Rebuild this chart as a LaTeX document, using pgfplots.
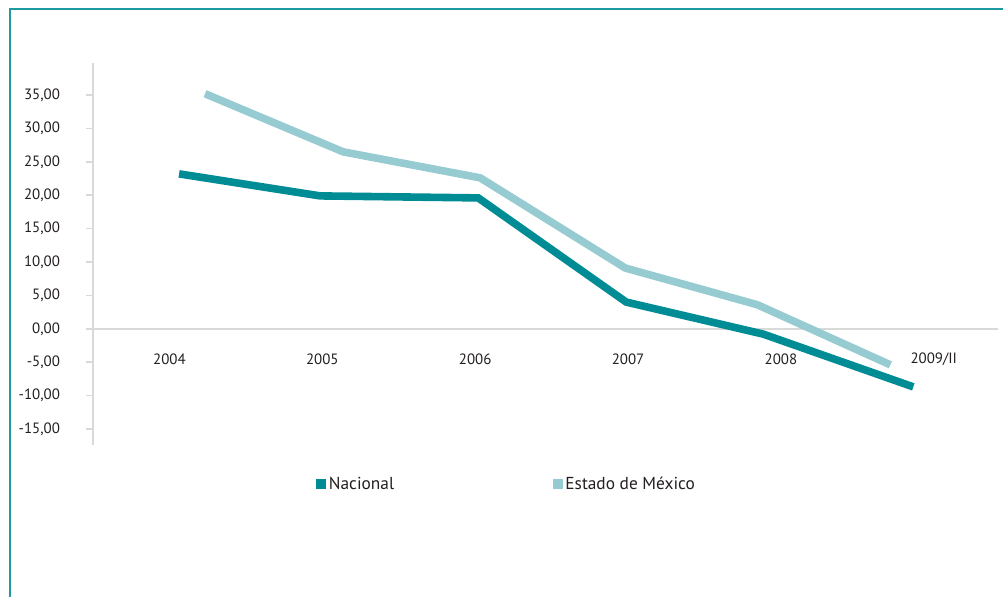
\documentclass[border=0pt]{standalone}
\usepackage{pgfplots}
\pgfplotsset{compat=1.18}
\usepackage{fontspec}
\setmainfont{PT Sans}
\definecolor{nacional}{RGB}{0,140,149}
\definecolor{edomex}{RGB}{150,203,210}
\definecolor{marco}{RGB}{30,155,162}
\definecolor{eje}{RGB}{217,217,217}
\definecolor{texto}{RGB}{35,31,32}

\begin{document}
\begin{tikzpicture}[x=0.75pt,y=0.75pt]
  \useasboundingbox (0,0) rectangle (1003,597);
  \draw[marco, line width=1.5pt] (10,0) -- (10,587.5) -- (1003,587.5);
  \begin{axis}[
      at={(69.75pt,114pt)}, anchor=south west,
      scale only axis,
      width=678.75pt, height=286.5pt,
      xmin=0, xmax=5.92,
      ymin=-17.4, ymax=39.8,
      axis x line=middle,
      axis y line=left,
      axis line style={eje, line width=1.2pt, -},
      xtick={0.5,1.5,2.5,3.5,4.5,5.5},
      xticklabels={2004,2005,2006,2007,2008,2009/II},
      extra x ticks={1,2,3,4,5},
      extra x tick labels={},
      extra x tick style={major tick length=3pt, tick align=outside},
      ytick={-15,-10,...,35},
      tick style={eje, line width=1.2pt},
      tick align=outside,
      major tick length=5.25pt,
      xtick style={draw=none},
      xticklabel style={anchor=center, yshift=-17.5pt, font=\fontsize{11.2}{13}\selectfont, text=texto},
      yticklabel style={anchor=east, xshift=-16pt, font=\fontsize{11.2}{13}\selectfont, text=texto},
      /pgf/number format/.cd, fixed, fixed zerofill, precision=2, use comma,
      assume math mode=true,
      /pgfplots/.cd,
      legend columns=2,
      legend style={draw=none, fill=none, at={(0.2464,-0.102)}, anchor=west,
        inner sep=0pt, font=\fontsize{13}{15}\selectfont, text=texto,
        /tikz/every even column/.append style={column sep=117pt}},
      legend image code/.code={\fill[#1, draw=none] (0pt,-3.75pt) rectangle (7.5pt,3.75pt);},
    ]
    \addplot[nacional, line width=5.7pt] coordinates {
      (0.563,23.2) (1.486,19.9) (2.520,19.6) (3.488,4.0) (4.385,-0.8) (5.366,-8.7)
    };
    \addlegendentry{Nacional}
    \addplot[edomex, line width=5.7pt] coordinates {
      (0.733,35.2) (1.636,26.5) (2.533,22.6) (3.482,9.1) (4.346,3.6) (5.216,-5.4)
    };
    \addlegendentry{Estado de México}
  \end{axis}
\end{tikzpicture}
\end{document}
